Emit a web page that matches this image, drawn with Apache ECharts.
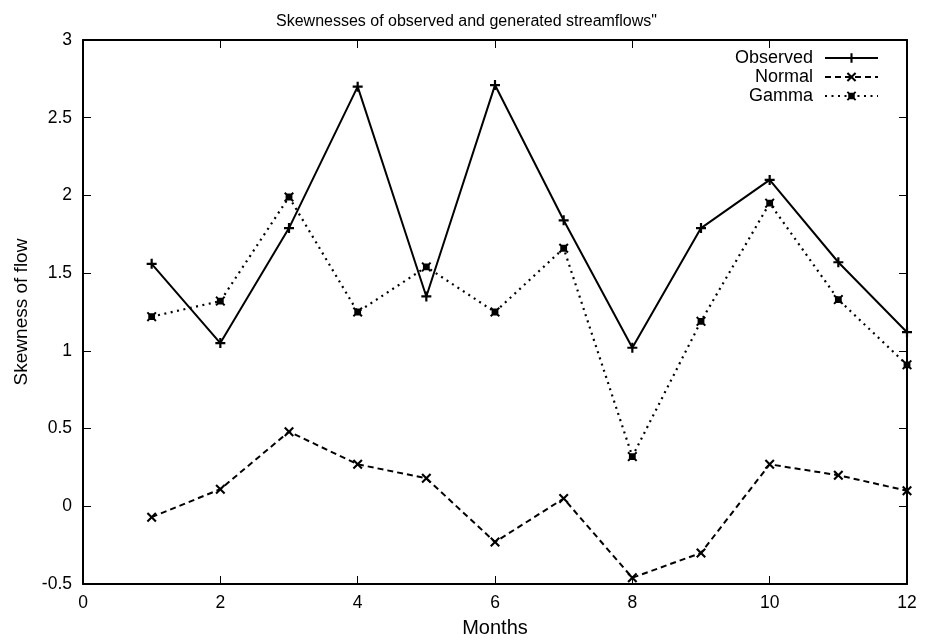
<!DOCTYPE html>
<html>
<head>
<meta charset="utf-8">
<script src="https://cdn.jsdelivr.net/npm/echarts@6/dist/echarts.min.js"></script>
<style>html,body{margin:0;padding:0;background:#fff;}#c{width:933px;height:643px;}</style>
</head>
<body>
<div id="c"></div>
<script>
const months = [1,2,3,4,5,6,7,8,9,10,11,12];
const observed = [1.56,1.05,1.79,2.70,1.35,2.71,1.84,1.02,1.79,2.10,1.57,1.12];
const normal = [-0.07,0.11,0.48,0.27,0.18,-0.23,0.05,-0.46,-0.30,0.27,0.20,0.10];
const gamma = [1.22,1.32,1.99,1.25,1.54,1.25,1.66,0.32,1.19,1.95,1.33,0.91];
const seriesNames = ['Observed','Normal','Gamma'];
const titleText = 'Skewnesses of observed and generated streamflows"';
const xName = 'Months';
const yName = 'Skewness of flow';

const FONT = '"Liberation Sans", Arial, Helvetica, sans-serif';
const plusSym = 'path://M0,3.9 L10,3.9 L10,6.1 L0,6.1 Z M3.9,0 L6.1,0 L6.1,10 L3.9,10 Z';
const xSym = 'path://M0,1.5 L1.5,0 L5,3.5 L8.5,0 L10,1.5 L6.5,5 L10,8.5 L8.5,10 L5,6.5 L1.5,10 L0,8.5 L3.5,5 Z';
const gSym = 'path://M0,1.4 L1.4,0 L3,1.6 L7,1.6 L8.6,0 L10,1.4 L8.4,3 L8.4,7 L10,8.6 L8.6,10 L7,8.4 L3,8.4 L1.4,10 L0,8.6 L1.6,7 L1.6,3 Z';

function pairs(arr){ return months.map((m,i)=>[m,arr[i]]); }

const chart = echarts.init(document.getElementById('c'), null, {renderer:'canvas'});
const axisCommon = {
  axisLine:{show:true, onZero:false, lineStyle:{color:'#000', width:2}},
  axisTick:{show:true, inside:true, length:8, lineStyle:{color:'#000', width:1}},
  splitLine:{show:false}
};
chart.setOption({
  animation:false,
  backgroundColor:'#fff',
  title:{text:titleText, left:'center', top:9,
    textStyle:{fontFamily:FONT, fontSize:16, fontWeight:'normal', color:'#000'}},
  grid:{left:83, right:26, top:40, bottom:55, containLabel:false},
  legend:{
    data:seriesNames, orient:'vertical', right:49, top:44,
    align:'right', itemWidth:53, itemHeight:12, itemGap:1,
    textStyle:{fontFamily:FONT, fontSize:18, color:'#000', width:82, align:'right', padding:[0,7,0,0]}
  },
  xAxis:[
    Object.assign({type:'value', min:0, max:12, interval:2, position:'bottom',
      name:xName, nameLocation:'middle', nameGap:34,
      nameTextStyle:{fontFamily:FONT, fontSize:20, color:'#000'},
      axisLabel:{fontFamily:FONT, fontSize:17.5, color:'#000', margin:10}}, axisCommon),
    Object.assign({type:'value', min:0, max:12, interval:2, position:'top',
      axisLabel:{show:false}}, axisCommon)
  ],
  yAxis:[
    Object.assign({type:'value', min:-0.5, max:3, interval:0.5, position:'left',
      name:yName, nameLocation:'middle', nameGap:52, nameRotate:90,
      nameTextStyle:{fontFamily:FONT, fontSize:19, color:'#000'},
      axisLabel:{fontFamily:FONT, fontSize:17.5, color:'#000', margin:11}}, axisCommon),
    Object.assign({type:'value', min:-0.5, max:3, interval:0.5, position:'right',
      axisLabel:{show:false}}, axisCommon)
  ],
  series:[
    {name:seriesNames[0], type:'line', data:pairs(observed), symbol:plusSym, symbolSize:10,
      showAllSymbol:true, color:'#000',
      lineStyle:{color:'#000', width:2, type:'solid'}, itemStyle:{color:'#000'}},
    {name:seriesNames[1], type:'line', data:pairs(normal), symbol:xSym, symbolSize:10,
      showAllSymbol:true, color:'#000',
      lineStyle:{color:'#000', width:2, type:[6,4]}, itemStyle:{color:'#000'}},
    {name:seriesNames[2], type:'line', data:pairs(gamma), symbol:gSym, symbolSize:10,
      showAllSymbol:true, color:'#000',
      lineStyle:{color:'#000', width:2.2, type:[2,4.5]}, itemStyle:{color:'#000'}}
  ]
});
</script>
</body>
</html>
